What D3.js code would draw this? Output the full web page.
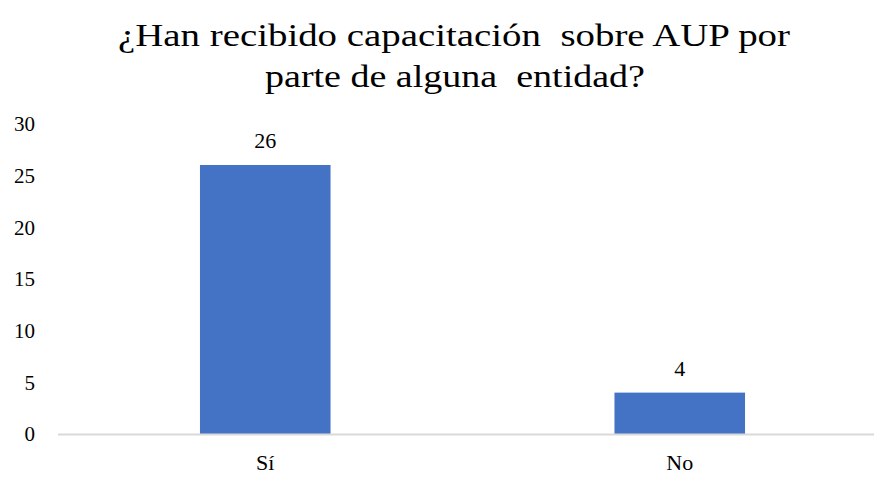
<!DOCTYPE html>
<html><head><meta charset="utf-8">
<script src="https://cdn.jsdelivr.net/npm/d3@7"></script>
<style>text{font-family:"Liberation Serif","Times New Roman",Tinos,serif !important}</style>
</head><body style="margin:0">
<script>
const categories = ["Sí", "No"];
const values = [26, 4];
const yTicks = [0, 5, 10, 15, 20, 25, 30];
const titleLines = ["¿Han recibido capacitación  sobre AUP por", "parte de alguna  entidad?"];

const W = 874, H = 477;
const FONT = '"Liberation Serif", "Times New Roman", Tinos, serif';
const svg = d3.select("body").append("svg").attr("width", W).attr("height", H).style("display","block");

const x = d3.scaleBand().domain(categories).range([58, 887]).paddingInner(0.685).paddingOuter(0.3425);
const y = d3.scaleLinear().domain([0, 30]).range([434, 123.6]);

function serif(sel, size) {
  sel.each(function () {
    this.style.setProperty("font-family", FONT, "important");
    this.style.setProperty("font-size", size + "px", "important");
  });
}

const titleSpans = [[118, 790], [265, 645]];
const title = svg.selectAll("text.title").data(titleLines).join("text").attr("class","title")
  .attr("x", (d,i) => titleSpans[i][0]).attr("y", (d,i) => 46 + i*41)
  .attr("textLength", (d,i) => titleSpans[i][1] - titleSpans[i][0])
  .attr("lengthAdjust", "spacingAndGlyphs")
  .style("white-space","pre").attr("fill","#000")
  .text(d => d);
serif(title, 31);

const yAxis = d3.axisLeft(y).tickValues(yTicks).tickSize(0).tickPadding(0);
const gy = svg.append("g").attr("transform","translate(35,0)").call(yAxis);
gy.select(".domain").remove();
gy.attr("font-family", null).attr("font-size", null);
serif(gy.selectAll("text").attr("fill","#000").attr("dy","0.33em"), 21);

svg.selectAll("rect.bar").data(values).join("rect").attr("class","bar")
  .attr("x",(d,i)=>x(categories[i])).attr("width",x.bandwidth())
  .attr("y",d=>y(d)).attr("height",d=>y(0)-y(d)).attr("fill","#4472c4");

svg.append("line").attr("x1",58).attr("x2",W).attr("y1",y(0)+0.5).attr("y2",y(0)+0.5)
  .attr("stroke","#d9d9d9").attr("stroke-width",2);

const lbl = svg.selectAll("text.lbl").data(values).join("text").attr("class","lbl")
  .attr("x",(d,i)=>x(categories[i])+x.bandwidth()/2).attr("y",d=>y(d)-17)
  .attr("text-anchor","middle").attr("fill","#000")
  .text(d=>d);
serif(lbl, 22);

const xAxis = d3.axisBottom(x).tickSize(0).tickPadding(0);
const gx = svg.append("g").attr("transform",`translate(0,${y(0)})`).call(xAxis);
gx.select(".domain").remove();
gx.attr("font-family", null).attr("font-size", null);
serif(gx.selectAll("text").attr("fill","#000").attr("dy",0).attr("y",36), 22);
</script>
</body></html>
